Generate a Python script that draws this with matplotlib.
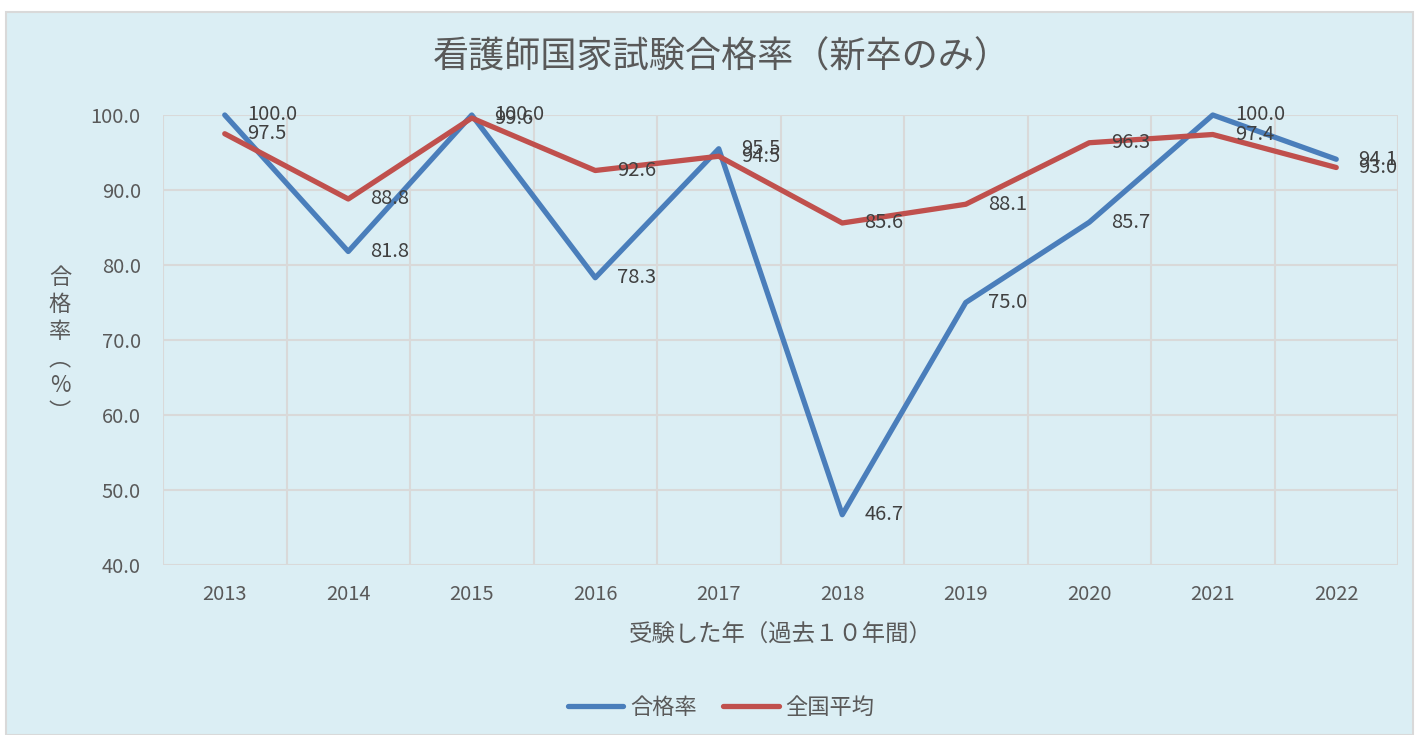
import matplotlib
matplotlib.use("Agg")
import matplotlib.pyplot as plt
from matplotlib.patches import Rectangle
from matplotlib.lines import Line2D

plt.rcParams['font.family'] = ['Noto Sans CJK JP', 'DejaVu Sans']

years = ["2013", "2014", "2015", "2016", "2017", "2018", "2019", "2020", "2021", "2022"]
pass_rate = [100.0, 81.8, 100.0, 78.3, 95.5, 46.7, 75.0, 85.7, 100.0, 94.1]
national_avg = [97.5, 88.8, 99.6, 92.6, 94.5, 85.6, 88.1, 96.3, 97.4, 93.0]
series_names = ["合格率", "全国平均"]
title = "看護師国家試験合格率（新卒のみ）"
xlabel = "受験した年（過去１０年間）"
ylabel = "合\n格\n率\n︵\n%\n︶"

W, H = 1416, 735
fig = plt.figure(figsize=(W / 100, H / 100), dpi=100)
fig.patch.set_facecolor("white")

bg = "#DBEEF4"
txt = "#595959"
grid = "#D9D9D9"
blue = "#4A7EBB"
red = "#C0504D"

# chart area background
bgr = Rectangle((6 / W, 0), (1413 - 6) / W, (H - 12) / H,
                transform=fig.transFigure, facecolor=bg,
                edgecolor=grid, linewidth=1.5, zorder=-10)
fig.add_artist(bgr)

ax = fig.add_axes([163 / W, 1 - 565 / H, (1398 - 163) / W, (565 - 115) / H])
ax.set_zorder(2)
ax.set_facecolor("none")
for s in ax.spines.values():
    s.set_visible(False)

n = len(years)
x = [i + 0.5 for i in range(n)]
ax.set_xlim(0, n)
ax.set_ylim(40, 100)
ax.set_yticks(range(40, 101, 10))
ax.set_yticklabels([f"{v:.1f}" for v in range(40, 101, 10)])
ax.set_xticks(x)
ax.set_xticklabels(years)
ax.tick_params(axis='both', length=0, colors=txt, labelsize=14.5)
ax.tick_params(axis='y', pad=16)
ax.tick_params(axis='x', pad=14)

for v in range(40, 101, 10):
    ax.axhline(v, color=grid, lw=1.5, zorder=1)
for i in range(n + 1):
    ax.axvline(i, color=grid, lw=1.5, zorder=1)

lw = 3.8
ax.plot(x, pass_rate, color=blue, lw=lw, solid_joinstyle='round', solid_capstyle='round', clip_on=False, zorder=3)
ax.plot(x, national_avg, color=red, lw=lw, solid_joinstyle='round', solid_capstyle='round', clip_on=False, zorder=4)

for xi, v in zip(x, pass_rate):
    ax.annotate(f"{v:.1f}", (xi, v), xytext=(16, 0), textcoords='offset points',
                ha='left', va='center', fontsize=14.5, color="#404040", zorder=5,
                annotation_clip=False)
for xi, v in zip(x, national_avg):
    ax.annotate(f"{v:.1f}", (xi, v), xytext=(16, 0), textcoords='offset points',
                ha='left', va='center', fontsize=14.5, color="#404040", zorder=5,
                annotation_clip=False)

fig.text(722 / W, 1 - 58 / H, title, ha='center', va='center', fontsize=26, color=txt)
fig.text(781 / W, 1 - 635 / H, xlabel, ha='center', va='center', fontsize=16.8, color=txt)
fig.text(60 / W, 1 - 345 / H, ylabel, ha='center', va='center', fontsize=16, color=txt,
         linespacing=1.22)

handles = [Line2D([0], [0], color=blue, lw=lw, solid_capstyle='round'),
           Line2D([0], [0], color=red, lw=lw, solid_capstyle='round')]
fig.legend(handles, series_names, loc='center', bbox_to_anchor=(721 / W, 1 - 707 / H),
           ncol=2, frameon=False, fontsize=16, labelcolor=txt, handlelength=2.5,
           handletextpad=0.3, columnspacing=1.2)

fig.savefig("out.png", dpi=100, facecolor=fig.get_facecolor())
